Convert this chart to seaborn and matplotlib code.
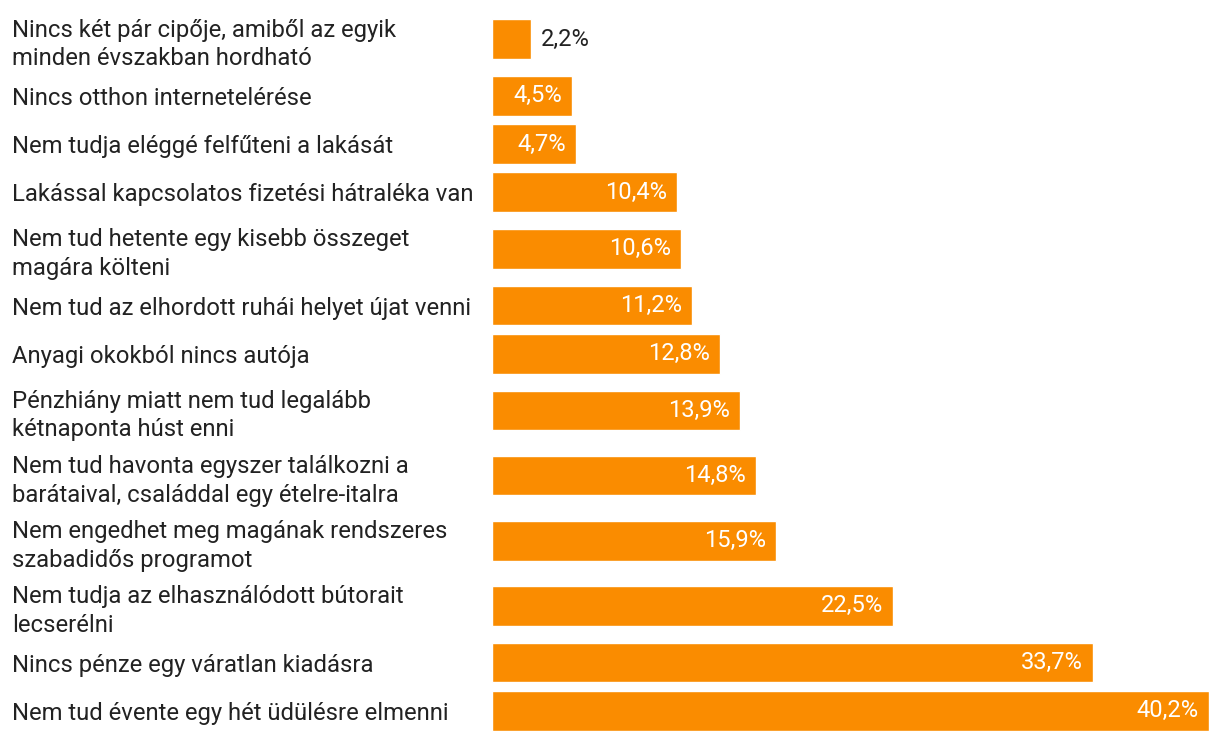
import seaborn as sns
import matplotlib.pyplot as plt
from matplotlib.transforms import offset_copy
import numpy as np
import pandas as pd

labels = [
    "Nincs két pár cipője, amiből az egyik\nminden évszakban hordható",
    "Nincs otthon internetelérése",
    "Nem tudja eléggé felfűteni a lakását",
    "Lakással kapcsolatos fizetési hátraléka van",
    "Nem tud hetente egy kisebb összeget\nmagára költeni",
    "Nem tud az elhordott ruhái helyet újat venni",
    "Anyagi okokból nincs autója",
    "Pénzhiány miatt nem tud legalább\nkétnaponta húst enni",
    "Nem tud havonta egyszer találkozni a\nbarátaival, családdal egy ételre-italra",
    "Nem engedhet meg magának rendszeres\nszabadidős programot",
    "Nem tudja az elhasználódott bútorait\nlecserélni",
    "Nincs pénze egy váratlan kiadásra",
    "Nem tud évente egy hét üdülésre elmenni",
]
values = [2.2, 4.5, 4.7, 10.4, 10.6, 11.2, 12.8, 13.9, 14.8, 15.9, 22.5, 33.7, 40.2]

ORANGE = "#FA8C00"
TEXT = "#222222"

sns.set_theme(style="white")
plt.rcParams["font.family"] = ["Roboto", "DejaVu Sans"]

# rows with two-line labels get a taller slot
heights = np.array([1.35 if "\n" in s else 1.0 for s in labels])
centers = np.cumsum(heights) - heights / 2
total = heights.sum()

df = pd.DataFrame({"label": labels, "value": values, "pos": centers})

fig = plt.figure(figsize=(12.2, 7.42), dpi=100)
ax = fig.add_axes([492 / 1220, 1 - 735 / 742, (1209 - 492) / 1220, (735 - 6.5) / 742])

sns.barplot(data=df, x="value", y="pos", orient="h", native_scale=True,
            color=ORANGE, saturation=1, width=0.82, ax=ax)

ax.set_xlim(0, 40.2)
ax.set_ylim(total, 0)
ax.set_xticks([])
ax.set_yticks(centers, labels)
ax.set_xlabel("")
ax.set_ylabel("")
sns.despine(ax=ax, left=True, bottom=True, top=True, right=True)
ax.tick_params(axis="y", length=0, pad=480 * 72 / 100)
for t in ax.get_yticklabels():
    t.set_ha("left")
    t.set_fontsize(17.2)
    t.set_color(TEXT)
    t.set_linespacing(1.3)

for v, c in zip(values, centers):
    txt = f"{v:.1f}%".replace(".", ",")
    if v < 3:
        tr = offset_copy(ax.transData, fig=fig, x=10, y=0, units="dots")
        ax.text(v, c, txt, transform=tr, ha="left", va="center",
                fontsize=17, color=TEXT)
    else:
        tr = offset_copy(ax.transData, fig=fig, x=-10, y=0, units="dots")
        ax.text(v, c, txt, transform=tr, ha="right", va="center",
                fontsize=17, color="white")

fig.savefig("out.png", dpi=100)
